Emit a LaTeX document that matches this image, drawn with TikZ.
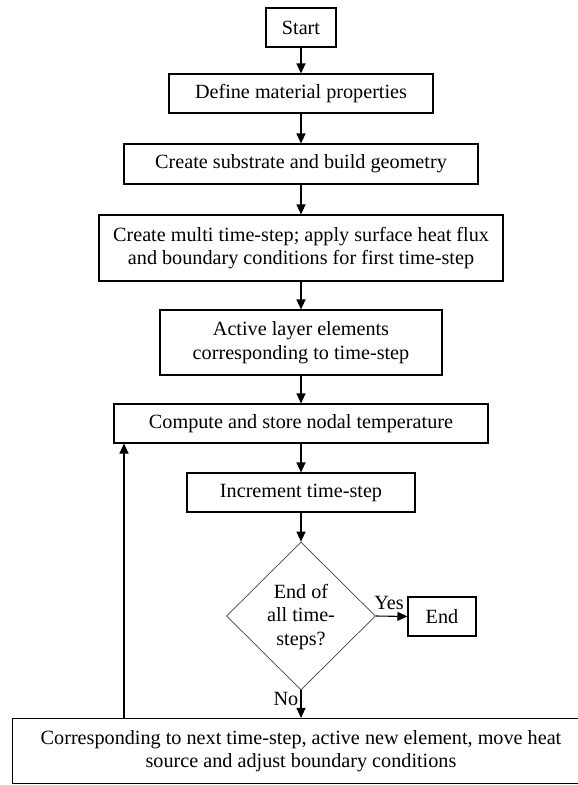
\documentclass[tikz,border=0pt]{standalone}
\usepackage{fontspec}
\setmainfont{Liberation Serif}
\usetikzlibrary{shapes.geometric,arrows.meta}
\begin{document}
\begin{tikzpicture}[x=1pt,y=-1pt,
  box/.style={draw, line width=1.1pt, rectangle, inner sep=0pt, align=center, font=\fontsize{20.2}{23.5}\selectfont},
  txt/.style={inner sep=0pt, align=center, font=\fontsize{20.2}{23.5}\selectfont},
  arr/.style={-{Triangle[length=10pt,width=9pt]}, line width=1.1pt}]
\useasboundingbox (0,0) rectangle (578,785);
\node[box, minimum width=70pt, minimum height=39pt] (start) at (301,27.5) {Start};
\node[box, minimum width=264pt, minimum height=39pt] (define) at (301,93.5) {Define material properties};
\node[box, minimum width=354pt, minimum height=40pt] (subs) at (301,164) {Create substrate and build geometry};
\node[box, minimum width=404pt, minimum height=66pt] (multi) at (301,248) {Create multi time-step; apply surface heat flux\\and boundary conditions for first time-step};
\node[box, minimum width=282pt, minimum height=65pt] (active) at (301,342.5) {Active layer elements\\corresponding to time-step};
\node[box, minimum width=374pt, minimum height=39pt] (compute) at (301,423.5) {Compute and store nodal temperature};
\node[box, minimum width=228pt, minimum height=39pt] (incr) at (301,492.5) {Increment time-step};
\node[draw=black!75, line width=0.7pt, diamond, minimum width=149pt, minimum height=148pt, inner sep=0pt] (dec) at (301,616) {};
\node[txt] (dectext) at (301,617) {End of\\all time-\\steps?};
\node[box, minimum width=68pt, minimum height=39pt] (end) at (442,616.5) {End};
\node[box, minimum width=577pt, minimum height=65pt] (next) at (301,751) {Corresponding to next time-step, active new element, move heat\\source and adjust boundary conditions};
\node[txt] (yes) at (389,603) {Yes};
\node[txt] (no) at (286,699) {No};
\coordinate (loopx) at (124,0);
\draw[arr] (start) -- (define);
\draw[arr] (define) -- (subs);
\draw[arr] (subs) -- (multi);
\draw[arr] (multi) -- (active);
\draw[arr] (active) -- (compute);
\draw[arr] (compute) -- (incr);
\draw[arr] (incr) -- (dec.north);
\draw[arr] (dec.east) -- (end.west);
\draw[arr] (dec.south) -- (next.north);
\draw[arr] (next.north -| loopx) -- (compute.south -| loopx);
\end{tikzpicture}
\end{document}
